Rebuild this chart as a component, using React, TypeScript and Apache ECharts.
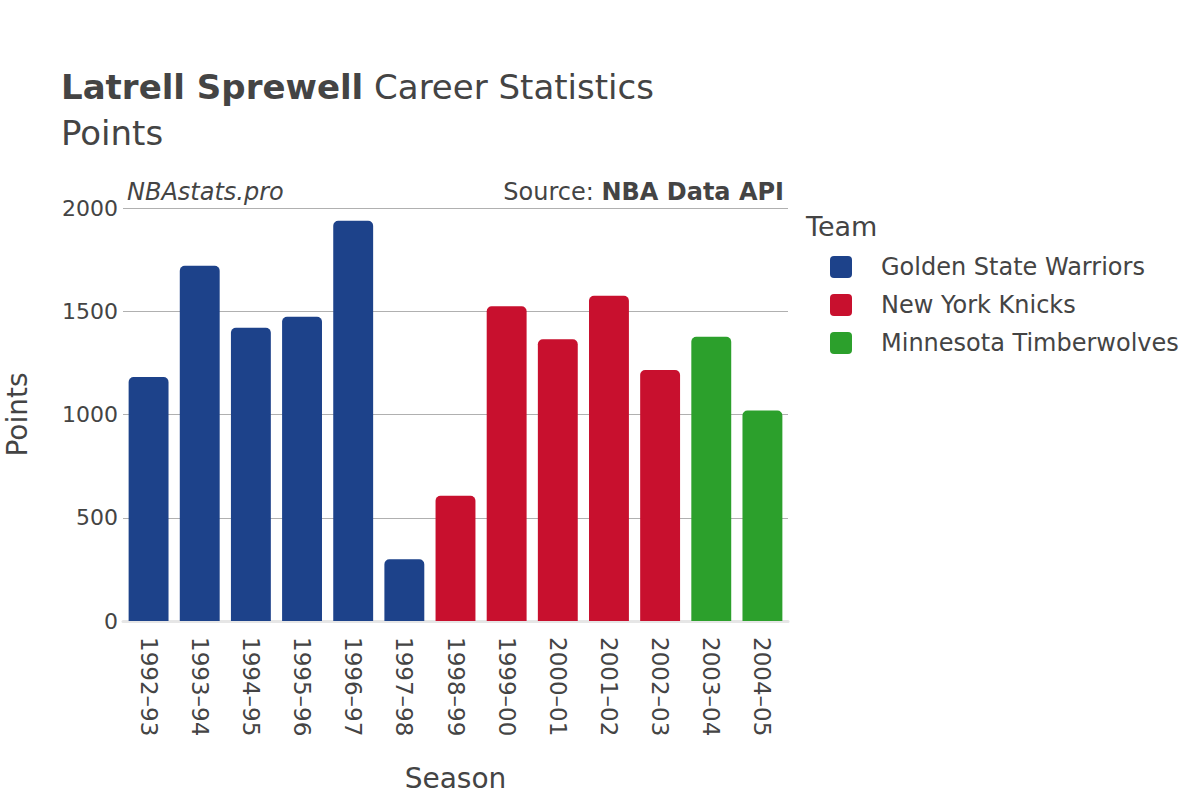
import React, { useEffect, useRef } from "react";
import * as echarts from "echarts";

const seasons = ["1992–93", "1993–94", "1994–95", "1995–96", "1996–97", "1997–98", "1998–99", "1999–00", "2000–01", "2001–02", "2002–03", "2003–04", "2004–05"];
const teams = ["Golden State Warriors", "New York Knicks", "Minnesota Timberwolves"];
const teamColors = ["#1D428A", "#C8102E", "#2CA02C"];
const points = [1182, 1720, 1420, 1473, 1938, 299, 606, 1524, 1364, 1575, 1215, 1376, 1019];
const seasonTeam = [0, 0, 0, 0, 0, 0, 1, 1, 1, 1, 1, 2, 2];
const yTicks = { min: 0, max: 2000, interval: 500 };

const FONT = "DejaVu Sans";
const ICON = "path://M4,0 H18 A4,4 0 0 1 22,4 V18 A4,4 0 0 1 18,22 H4 A4,4 0 0 1 0,18 V4 A4,4 0 0 1 4,0 Z";

export default function App() {
  const ref = useRef<HTMLDivElement>(null);
  useEffect(() => {
    if (!ref.current) return;
    const chart = echarts.init(ref.current, null, { renderer: "svg" });
    const series = teams.map((t, ti) => ({
      name: t,
      type: "bar",
      stack: "total",
      barCategoryGap: "22%",
      itemStyle: { color: teamColors[ti], borderRadius: [5, 5, 0, 0] },
      data: points.map((p, i) => (seasonTeam[i] === ti ? p : "-")),
    }));
    chart.setOption({
      animation: false,
      backgroundColor: "#ffffff",
      textStyle: { fontFamily: FONT },
      grid: { left: 123, right: 412, top: 208, bottom: 179, containLabel: false, outerBoundsMode: "none" },
      legend: {
        orient: "vertical",
        left: 830,
        top: 255,
        padding: 0,
        itemWidth: 22,
        itemHeight: 22,
        itemGap: 14,
        icon: ICON,
        selectedMode: false,
        textStyle: { fontFamily: FONT, fontSize: 24, color: "#444", padding: [0, 0, 0, 24] },
        data: teams,
      },
      xAxis: {
        type: "category",
        data: seasons,
        axisLine: { show: true, lineStyle: { color: "#e6e6e6", width: 3 } },
        axisTick: { show: false },
        axisLabel: { rotate: -90, fontSize: 23, color: "#444", fontFamily: FONT, margin: 16 },
        name: "Season",
        nameLocation: "middle",
        nameGap: 157,
        nameTextStyle: { fontSize: 28, color: "#444", fontFamily: FONT, verticalAlign: "middle" },
      },
      yAxis: {
        type: "value",
        min: yTicks.min,
        max: yTicks.max,
        interval: yTicks.interval,
        axisLine: { show: false },
        axisTick: { show: false },
        splitLine: { lineStyle: { color: "#b0b0b0", width: 1 } },
        axisLabel: { fontSize: 22, color: "#444", fontFamily: FONT, margin: 5, formatter: (v: number) => String(v) },
        name: "Points",
        nameLocation: "middle",
        nameGap: 106,
        nameTextStyle: { fontSize: 28, color: "#444", fontFamily: FONT, verticalAlign: "middle" },
      },
      graphic: [
        {
          type: "text",
          left: 61,
          top: 70,
          style: {
            text: "{b|Latrell Sprewell}{n| Career Statistics}",
            rich: {
              b: { fontSize: 34, fontWeight: "bold", fill: "#444", fontFamily: FONT },
              n: { fontSize: 34, fill: "#444", fontFamily: FONT },
            },
          },
        },
        {
          type: "text",
          left: 61,
          top: 116,
          style: { text: "Points", fontSize: 34, fill: "#444", fontFamily: FONT },
        },
        {
          type: "text",
          left: 127,
          top: 180,
          style: { text: "NBAstats.pro", fontSize: 24, fontStyle: "italic", fill: "#444", fontFamily: FONT },
        },
        {
          type: "text",
          right: 416,
          top: 180,
          style: {
            text: "{n|Source: }{b|NBA Data API}",
            rich: {
              n: { fontSize: 24, fill: "#444", fontFamily: FONT },
              b: { fontSize: 24, fontWeight: "bold", fill: "#444", fontFamily: FONT },
            },
          },
        },
        {
          type: "text",
          left: 806,
          top: 213,
          style: { text: "Team", fontSize: 27, fill: "#444", fontFamily: FONT },
        },
      ],
      series,
    });
    return () => chart.dispose();
  }, []);
  return <div ref={ref} style={{ position: "fixed", left: 0, top: 0, width: 1200, height: 800 }} />;
}
